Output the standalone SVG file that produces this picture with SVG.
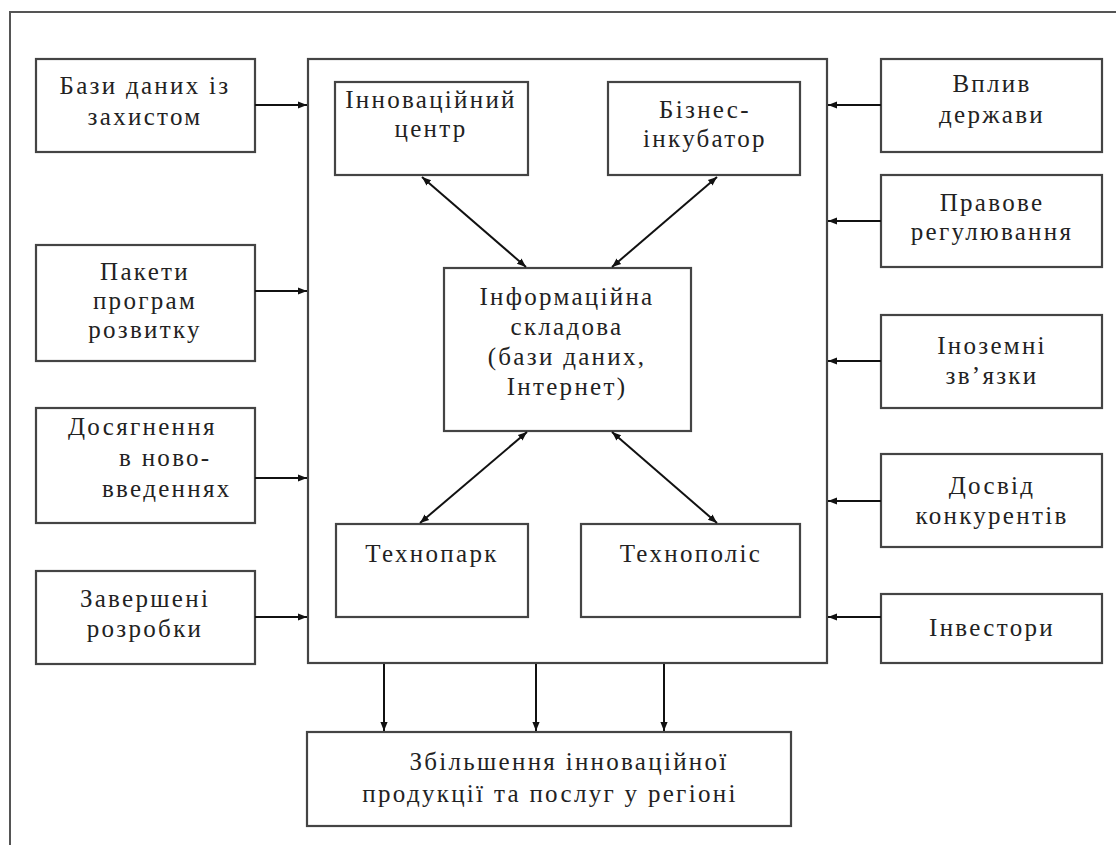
<svg xmlns="http://www.w3.org/2000/svg" width="1116" height="845" viewBox="0 0 1116 845">
<defs>
<marker id="ah" viewBox="0 0 10 10" refX="10" refY="5" markerWidth="9" markerHeight="9" markerUnits="userSpaceOnUse" orient="auto-start-reverse">
<path d="M0,1 L10,5 L0,9 z" fill="#111"/>
</marker>
<style>
.b{fill:#fff;stroke:#444;stroke-width:2.2}
.c{stroke:#111;stroke-width:2;fill:none}
.t{font-family:'Liberation Serif','Times New Roman',serif;font-size:25px;fill:#222;text-anchor:middle;letter-spacing:2.3px}
.s{text-anchor:start}
</style>
</defs>
<rect width="1116" height="845" fill="#fff"/>
<path d="M10,845 V12 H1116" fill="none" stroke="#555" stroke-width="2"/>
<g id="main"><rect class="b" x="308" y="59" width="519" height="604"/></g>
<g id="n-bazy"><rect class="b" x="36" y="59" width="219" height="93"/><text class="t" x="145" y="94">Бази даних із</text><text class="t" x="145" y="125">захистом</text></g>
<g id="n-pakety"><rect class="b" x="36" y="245" width="219" height="116"/><text class="t" x="145" y="280">Пакети</text><text class="t" x="145" y="309">програм</text><text class="t" x="145" y="338">розвитку</text></g>
<g id="n-dosyag"><rect class="b" x="36" y="408" width="219" height="115"/><text class="t s" x="68" y="435">Досягнення</text><text class="t s" x="119" y="466">в ново-</text><text class="t s" x="102" y="497">введеннях</text></g>
<g id="n-zaversh"><rect class="b" x="36" y="571" width="219" height="93"/><text class="t" x="145" y="607">Завершені</text><text class="t" x="145" y="637">розробки</text></g>
<g id="n-vplyv"><rect class="b" x="881" y="59" width="221" height="93"/><text class="t" x="992" y="92">Вплив</text><text class="t" x="992" y="123">держави</text></g>
<g id="n-pravove"><rect class="b" x="881" y="175" width="221" height="92"/><text class="t" x="992" y="211">Правове</text><text class="t" x="992" y="240">регулювання</text></g>
<g id="n-inozem"><rect class="b" x="881" y="315" width="221" height="93"/><text class="t" x="992" y="354">Іноземні</text><text class="t" x="992" y="384">зв’язки</text></g>
<g id="n-dosvid"><rect class="b" x="881" y="454" width="221" height="93"/><text class="t" x="992" y="494">Досвід</text><text class="t" x="992" y="524">конкурентів</text></g>
<g id="n-invest"><rect class="b" x="881" y="594" width="221" height="69"/><text class="t" x="992" y="636">Інвестори</text></g>
<g id="n-innov"><rect class="b" x="335" y="82" width="193" height="93"/><text class="t" x="431" y="108">Інноваційний</text><text class="t" x="431" y="137">центр</text></g>
<g id="n-biznes"><rect class="b" x="608" y="82" width="192" height="93"/><text class="t" x="705" y="118">Бізнес-</text><text class="t" x="705" y="147">інкубатор</text></g>
<g id="n-info"><rect class="b" x="444" y="268" width="247" height="163"/><text class="t" x="567" y="305">Інформаційна</text><text class="t" x="567" y="335">складова</text><text class="t" x="567" y="365">(бази даних,</text><text class="t" x="567" y="395">Інтернет)</text></g>
<g id="n-tpark"><rect class="b" x="336" y="524" width="192" height="93"/><text class="t" x="432" y="562">Технопарк</text></g>
<g id="n-tpolis"><rect class="b" x="581" y="524" width="219" height="93"/><text class="t" x="691" y="562">Технополіс</text></g>
<g id="n-result"><rect class="b" x="307" y="732" width="484" height="94"/><text class="t" x="569" y="770">Збільшення інноваційної</text><text class="t" x="550" y="802">продукції та послуг у регіоні</text></g>
<g id="connectors">
<line class="c" x1="255" y1="105" x2="307" y2="105" marker-end="url(#ah)"/>
<line class="c" x1="255" y1="291" x2="307" y2="291" marker-end="url(#ah)"/>
<line class="c" x1="255" y1="478" x2="307" y2="478" marker-end="url(#ah)"/>
<line class="c" x1="255" y1="617" x2="307" y2="617" marker-end="url(#ah)"/>
<line class="c" x1="881" y1="105" x2="828" y2="105" marker-end="url(#ah)"/>
<line class="c" x1="881" y1="221" x2="828" y2="221" marker-end="url(#ah)"/>
<line class="c" x1="881" y1="361" x2="828" y2="361" marker-end="url(#ah)"/>
<line class="c" x1="881" y1="501" x2="828" y2="501" marker-end="url(#ah)"/>
<line class="c" x1="881" y1="617" x2="828" y2="617" marker-end="url(#ah)"/>
<line class="c" x1="422" y1="177" x2="526" y2="267" marker-start="url(#ah)" marker-end="url(#ah)"/>
<line class="c" x1="717" y1="177" x2="612" y2="267" marker-start="url(#ah)" marker-end="url(#ah)"/>
<line class="c" x1="527" y1="432" x2="420" y2="523" marker-start="url(#ah)" marker-end="url(#ah)"/>
<line class="c" x1="612" y1="432" x2="717" y2="523" marker-start="url(#ah)" marker-end="url(#ah)"/>
<line class="c" x1="384" y1="664" x2="384" y2="731" marker-end="url(#ah)"/>
<line class="c" x1="536" y1="664" x2="536" y2="731" marker-end="url(#ah)"/>
<line class="c" x1="664" y1="664" x2="664" y2="731" marker-end="url(#ah)"/>
</g>
</svg>
